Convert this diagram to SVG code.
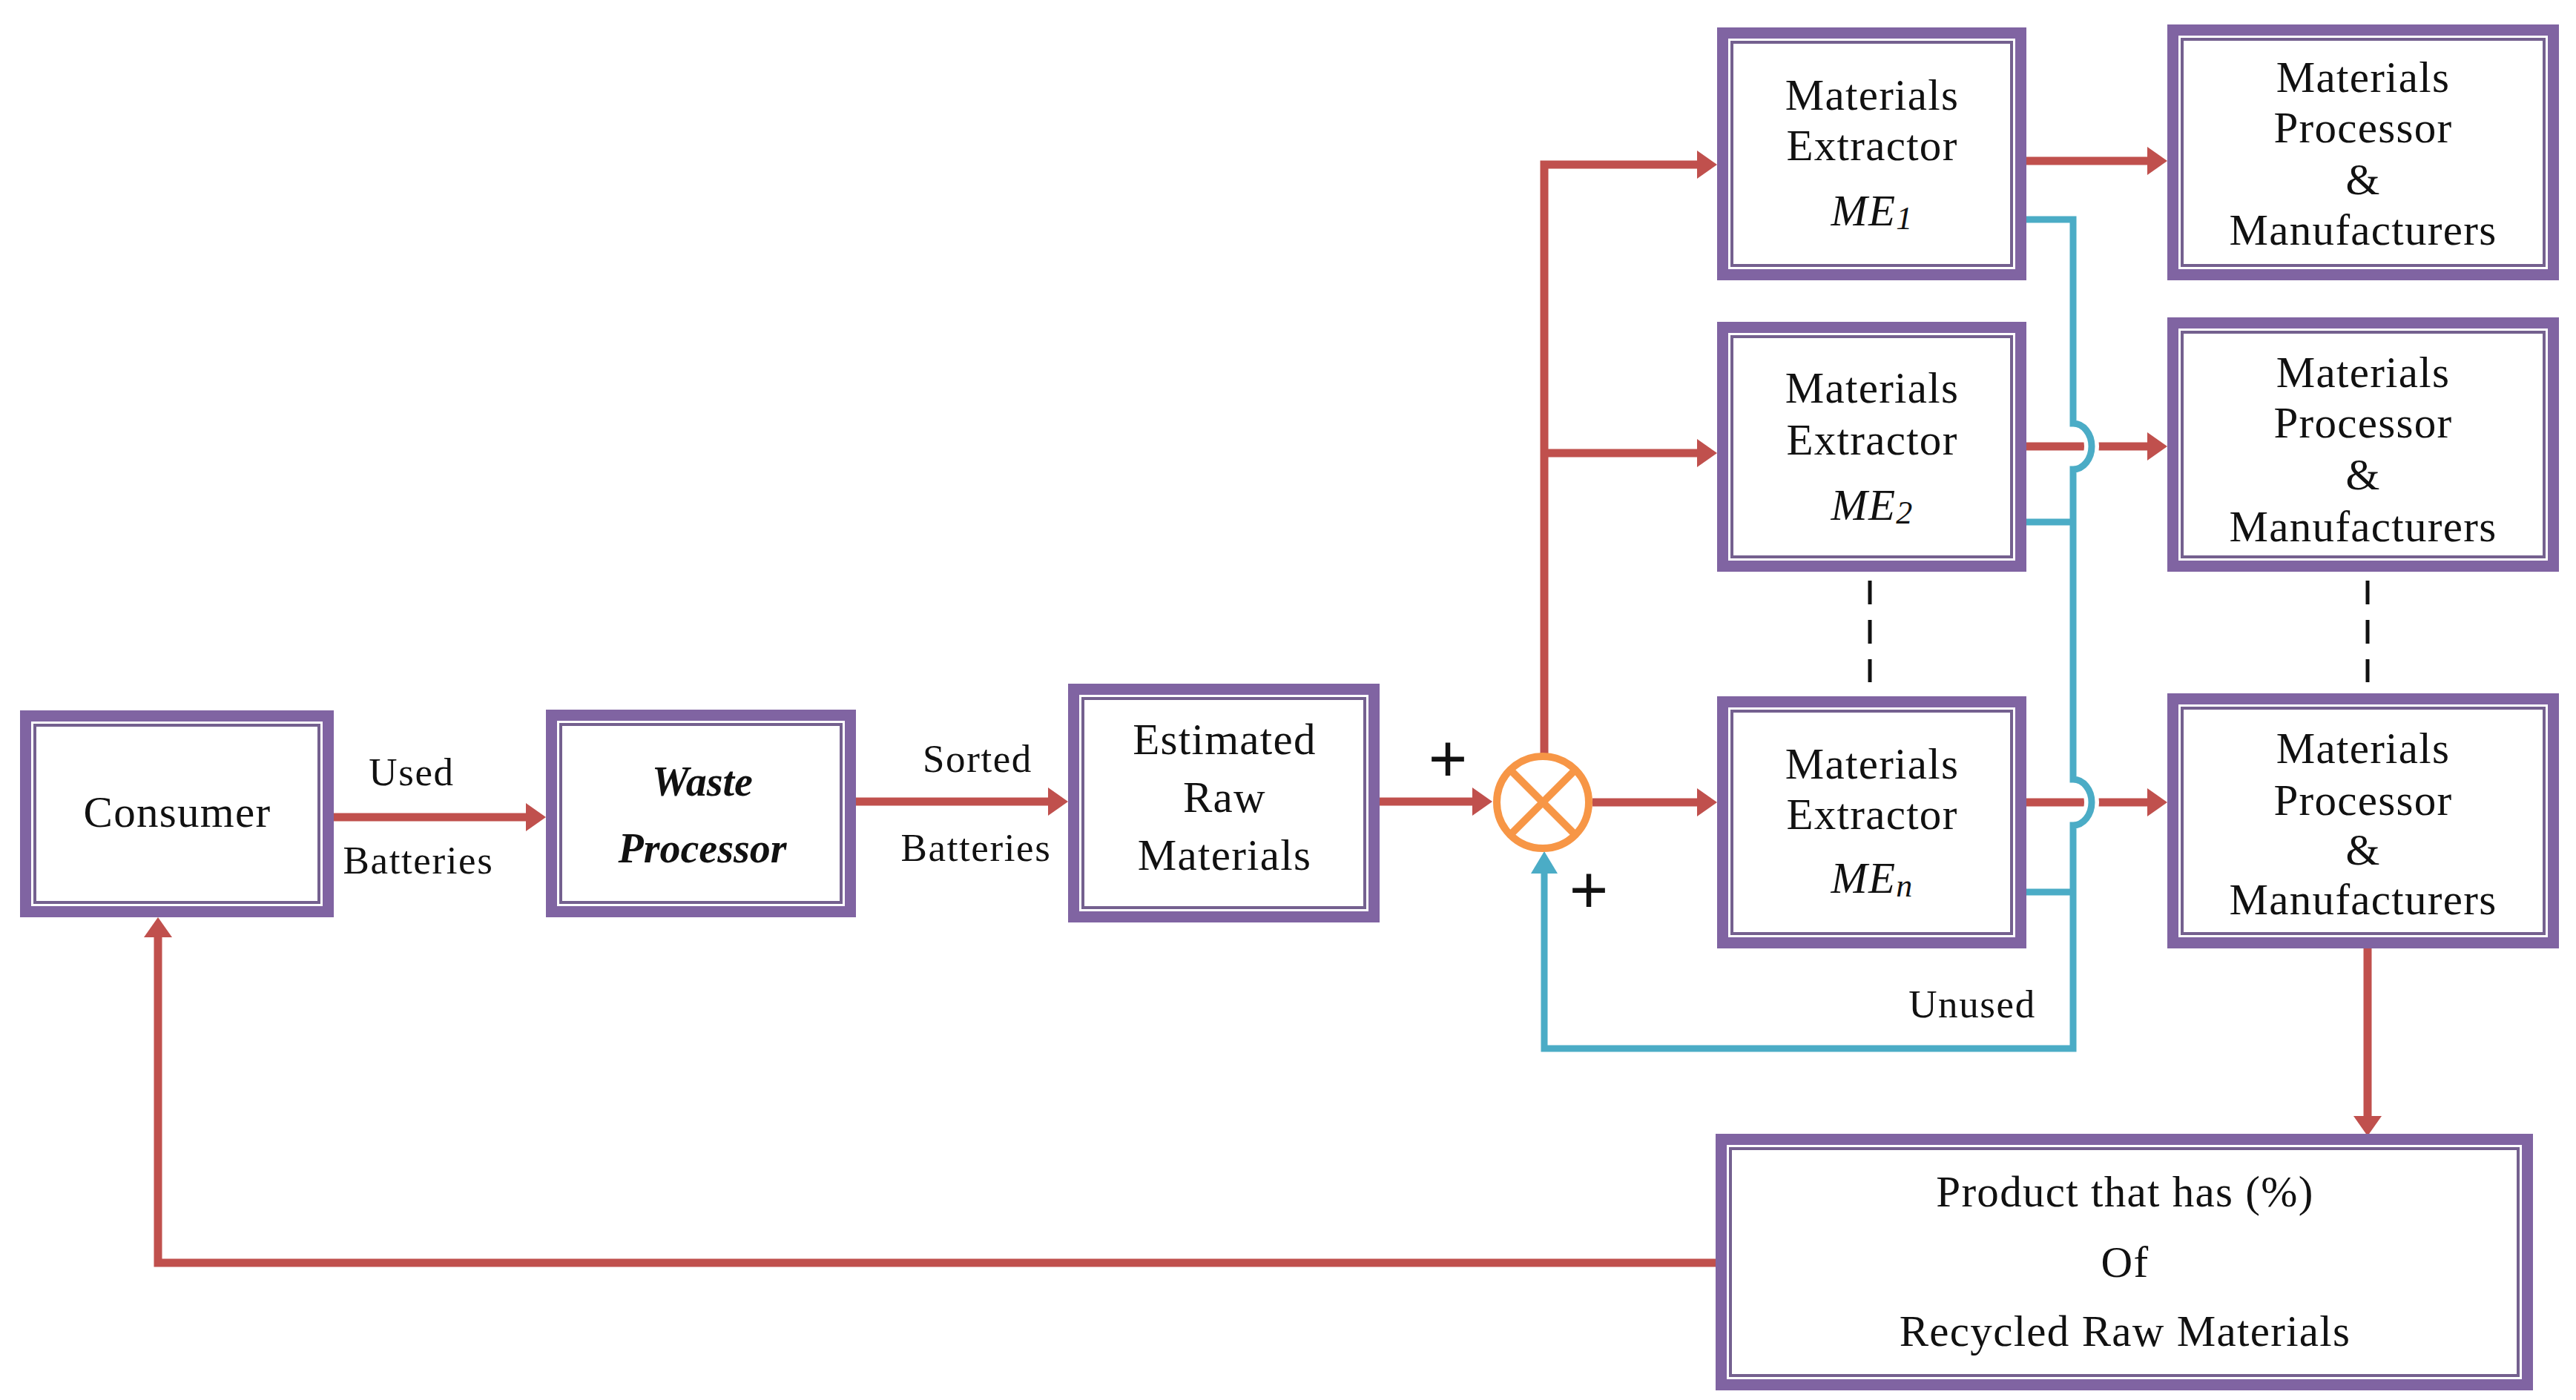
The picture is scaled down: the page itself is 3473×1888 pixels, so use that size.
<svg xmlns="http://www.w3.org/2000/svg" width="3473" height="1888" viewBox="0 0 3473 1888">
<style>
.ob{fill:#ffffff;stroke:#8064A2;stroke-width:15}
.ib{fill:none;stroke:#74608F;stroke-width:4}
.t{font-family:"Liberation Serif","Times New Roman",serif;font-size:59px;letter-spacing:1.3px;fill:#111;text-anchor:middle}
.lb{font-family:"Liberation Serif","Times New Roman",serif;font-size:53px;letter-spacing:1.6px;fill:#111;text-anchor:middle}
.bi{font-family:"Liberation Serif","Times New Roman",serif;font-size:56px;font-weight:bold;font-style:italic;fill:#111;text-anchor:middle}
.it{font-style:italic}
.sub{font-size:44px}
.pl{font-family:"Liberation Sans",Arial,sans-serif;font-size:90px;fill:#111;text-anchor:middle}
.red{fill:none;stroke:#C0504D;stroke-width:11;stroke-linejoin:miter}
.blue{fill:none;stroke:#4BACC6;stroke-width:9;stroke-linejoin:miter}
.gap{fill:none;stroke:#ffffff;stroke-width:20}
.dash{fill:none;stroke:#111;stroke-width:5;stroke-dasharray:32 21}
</style>
<defs>
<marker id="ar" markerUnits="userSpaceOnUse" markerWidth="27" markerHeight="38" refX="5" refY="19" orient="auto" viewBox="0 0 27 38">
<path d="M0,0 L27,19 L0,38 z" fill="#C0504D"/>
</marker>
<marker id="ab" markerUnits="userSpaceOnUse" markerWidth="30" markerHeight="36" refX="6" refY="18" orient="auto" viewBox="0 0 30 36">
<path d="M0,0 L30,18 L0,36 z" fill="#4BACC6"/>
</marker>
</defs>
<rect width="3473" height="1888" fill="#ffffff"/>

<g id="connectors">
<path class="red" d="M450,1102 H714" marker-end="url(#ar)"/>
<path class="red" d="M1154,1081 H1418" marker-end="url(#ar)"/>
<path class="red" d="M1860,1081 H1990" marker-end="url(#ar)"/>
<path class="red" d="M2147,1082 H2293" marker-end="url(#ar)"/>
<path class="red" d="M2082,1020 V222 H2293" marker-end="url(#ar)"/>
<path class="red" d="M2082,611 H2293" marker-end="url(#ar)"/>
<path class="red" d="M2732,217 H2900" marker-end="url(#ar)"/>
<path class="red" d="M2732,602 H2900" marker-end="url(#ar)"/>
<path class="red" d="M2732,1082 H2900" marker-end="url(#ar)"/>
<path class="red" d="M3192,1279 V1510" marker-end="url(#ar)"/>
<path class="red" d="M2313,1703 H213 V1259" marker-end="url(#ar)"/>
<path class="gap" d="M2795,571 A25,31 0 0 1 2795,633"/>
<path class="gap" d="M2795,1051 A25,31 0 0 1 2795,1113"/>
<path class="blue" d="M2730,296 H2795 V571 A25,31 0 0 1 2795,633 V1051 A25,31 0 0 1 2795,1113 V1414 H2082 V1172" marker-end="url(#ab)"/>
<path class="blue" d="M2730,704 H2795"/>
<path class="blue" d="M2730,1203 H2795"/>
<path class="dash" d="M2521,783 V920"/>
<path class="dash" d="M3192,783 V920"/>
<text class="lb" x="555" y="1059">Used</text>
<text class="lb" x="564" y="1178">Batteries</text>
<text class="lb" x="1318" y="1041">Sorted</text>
<text class="lb" x="1316" y="1161">Batteries</text>
<text class="lb" x="2659" y="1372">Unused</text>
<text class="pl" x="1952" y="1054">+</text>
<text class="pl" x="2142" y="1231">+</text>
</g>

<g id="sum">
<circle cx="2080" cy="1082" r="62" fill="#ffffff" stroke="#F79646" stroke-width="10"/>
<path d="M2036,1038 L2124,1126 M2124,1038 L2036,1126" stroke="#F79646" stroke-width="10" fill="none"/>
</g>

<g id="consumer">
<rect class="ob" x="34.5" y="965.5" width="408" height="264"/>
<rect class="ib" x="47" y="978" width="383" height="239"/>
<text class="t" x="239" y="1115">Consumer</text>
</g>

<g id="waste">
<rect class="ob" x="743.5" y="964.5" width="403" height="265"/>
<rect class="ib" x="756" y="977" width="378" height="240"/>
<text class="bi" x="947" y="1073">Waste</text>
<text class="bi" x="947" y="1163">Processor</text>
</g>

<g id="estimated">
<rect class="ob" x="1447.5" y="929.5" width="405" height="307"/>
<rect class="ib" x="1460" y="942" width="380" height="282"/>
<text class="t" x="1651" y="1017">Estimated</text>
<text class="t" x="1651" y="1095">Raw</text>
<text class="t" x="1651" y="1173">Materials</text>
</g>

<g id="me1">
<rect class="ob" x="2322.5" y="44.5" width="402" height="326"/>
<rect class="ib" x="2335" y="57" width="377" height="301"/>
<text class="t" x="2524" y="148">Materials</text>
<text class="t" x="2524" y="216">Extractor</text>
<text class="t" x="2524" y="304"><tspan class="it">ME</tspan><tspan class="it sub" dy="5">1</tspan></text>
</g>

<g id="me2">
<rect class="ob" x="2322.5" y="441.5" width="402" height="322"/>
<rect class="ib" x="2335" y="454" width="377" height="297"/>
<text class="t" x="2524" y="543">Materials</text>
<text class="t" x="2524" y="613">Extractor</text>
<text class="t" x="2524" y="701"><tspan class="it">ME</tspan><tspan class="it sub" dy="5">2</tspan></text>
</g>

<g id="men">
<rect class="ob" x="2322.5" y="946.5" width="402" height="325"/>
<rect class="ib" x="2335" y="959" width="377" height="300"/>
<text class="t" x="2524" y="1050">Materials</text>
<text class="t" x="2524" y="1118">Extractor</text>
<text class="t" x="2524" y="1204"><tspan class="it">ME</tspan><tspan class="it sub" dy="5">n</tspan></text>
</g>

<g id="mp1">
<rect class="ob" x="2929.5" y="40.5" width="513" height="330"/>
<rect class="ib" x="2942" y="53" width="488" height="305"/>
<text class="t" x="3186" y="124">Materials</text>
<text class="t" x="3186" y="192">Processor</text>
<text class="t" x="3186" y="262">&amp;</text>
<text class="t" x="3186" y="330">Manufacturers</text>
</g>

<g id="mp2">
<rect class="ob" x="2929.5" y="435.5" width="513" height="328"/>
<rect class="ib" x="2942" y="448" width="488" height="303"/>
<text class="t" x="3186" y="522">Materials</text>
<text class="t" x="3186" y="590">Processor</text>
<text class="t" x="3186" y="660">&amp;</text>
<text class="t" x="3186" y="730">Manufacturers</text>
</g>

<g id="mpn">
<rect class="ob" x="2929.5" y="942.5" width="513" height="329"/>
<rect class="ib" x="2942" y="955" width="488" height="304"/>
<text class="t" x="3186" y="1029">Materials</text>
<text class="t" x="3186" y="1099">Processor</text>
<text class="t" x="3186" y="1166">&amp;</text>
<text class="t" x="3186" y="1233">Manufacturers</text>
</g>

<g id="product">
<rect class="ob" x="2320.5" y="1536.5" width="1087" height="331"/>
<rect class="ib" x="2333" y="1549" width="1062" height="306"/>
<text class="t" x="2865" y="1627">Product that has (%)</text>
<text class="t" x="2865" y="1722">Of</text>
<text class="t" x="2865" y="1815">Recycled Raw Materials</text>
</g>
</svg>
